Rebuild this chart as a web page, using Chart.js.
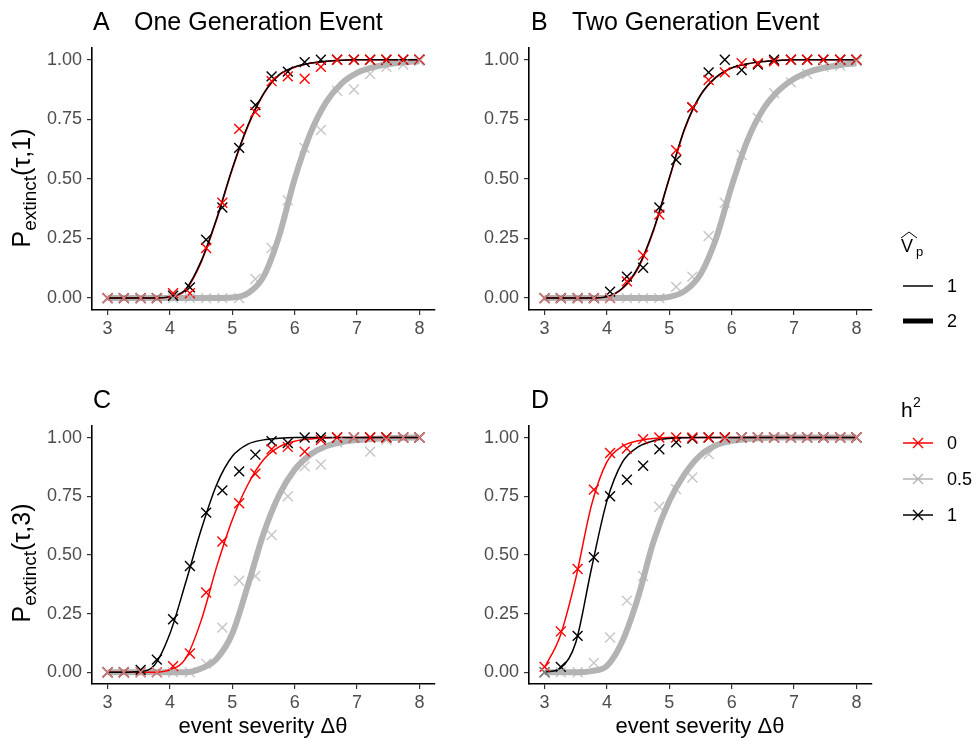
<!DOCTYPE html>
<html>
<head>
<meta charset="utf-8">
<script src="https://cdn.jsdelivr.net/npm/chart.js@4.4.1/dist/chart.umd.min.js"></script>
<style>
  body { margin: 0; background: #fff; width: 977px; height: 741px; position: relative; overflow: hidden;
         font-family: "Liberation Sans", Arial, sans-serif; }
  canvas { position: absolute; }
  .t { position: absolute; white-space: nowrap; color: #000; line-height: 1; }
  .yt { position: absolute; white-space: nowrap; color: #000; font-size: 25px; line-height: 1;
        transform: translate(-50%, -50%) rotate(-90deg); }
  .yt sub { font-size: 19px; vertical-align: -6px; }
</style>
</head>
<body>
<canvas id="pA" width="445" height="320"></canvas>
<canvas id="pB" width="445" height="320"></canvas>
<canvas id="pC" width="445" height="320"></canvas>
<canvas id="pD" width="445" height="320"></canvas>

<div class="t" style="left:93px;top:9px;font-size:25px">A</div>
<div class="t" style="left:134px;top:9px;font-size:25px">One Generation Event</div>
<div class="t" style="left:531px;top:9px;font-size:25px">B</div>
<div class="t" style="left:572px;top:9px;font-size:25px">Two Generation Event</div>
<div class="t" style="left:93px;top:387px;font-size:25px">C</div>
<div class="t" style="left:531px;top:387px;font-size:25px">D</div>

<div class="yt" style="left:24px;top:188px">P<sub>extinct</sub>(τ,1)</div>
<div class="yt" style="left:24px;top:563px">P<sub>extinct</sub>(τ,3)</div>

<div class="t" style="left:263px;top:715px;font-size:22px;transform:translateX(-50%)">event severity Δθ</div>
<div class="t" style="left:700px;top:715px;font-size:22px;transform:translateX(-50%)">event severity Δθ</div>

<!-- legend -->
<div class="t" style="left:901px;top:237px;font-size:18px">V</div>
<div class="t" style="left:916px;top:245px;font-size:13px">p</div>
<div class="t" style="left:901px;top:399px;font-size:21px">h</div>
<div class="t" style="left:913px;top:395px;font-size:14px">2</div>
<div class="t" style="left:947px;top:277px;font-size:18px">1</div>
<div class="t" style="left:947px;top:312px;font-size:18px">2</div>
<div class="t" style="left:947px;top:434px;font-size:18px">0</div>
<div class="t" style="left:947px;top:470px;font-size:18px">0.5</div>
<div class="t" style="left:947px;top:506px;font-size:18px">1</div>
<svg style="position:absolute;left:0;top:0" width="977" height="741">
  <polyline points="901,238 909,232 917,238" fill="none" stroke="#000" stroke-width="1"/>
  <line x1="903" y1="286" x2="933" y2="286" stroke="#000" stroke-width="1.5"/>
  <line x1="903" y1="321" x2="933" y2="321" stroke="#000" stroke-width="5"/>
  <line x1="903" y1="443" x2="933" y2="443" stroke="#ff0000" stroke-width="1.5"/>
  <path d="M913,438 L923,448 M913,448 L923,438" stroke="#ff0000" stroke-width="1.4"/>
  <line x1="903" y1="479" x2="933" y2="479" stroke="#b3b3b3" stroke-width="1.5"/>
  <path d="M913,474 L923,484 M913,484 L923,474" stroke="#b3b3b3" stroke-width="1.4"/>
  <line x1="903" y1="515" x2="933" y2="515" stroke="#000" stroke-width="1.5"/>
  <path d="M913,510 L923,520 M913,520 L923,510" stroke="#000" stroke-width="1.4"/>
</svg>

<script>
// simulated event severities (crosses) and fitted-curve grid
const xPoints = [3.00, 3.26, 3.53, 3.79, 4.05, 4.32, 4.58, 4.84, 5.11, 5.37, 5.63, 5.89, 6.16, 6.42, 6.68, 6.95, 7.21, 7.47, 7.74, 8.00];
const xCurve = [3.00, 3.25, 3.50, 3.75, 4.00, 4.25, 4.50, 4.75, 5.00, 5.25, 5.50, 5.75, 6.00, 6.25, 6.50, 6.75, 7.00, 7.25, 7.50, 7.75, 8.00];
const xTicks = [3, 4, 5, 6, 7, 8];
const yTicks = [0, 0.25, 0.5, 0.75, 1];

// A: one generation event, tau = 1
const aRedPts   = [0, 0, 0, 0, 0.02, 0.02, 0.21, 0.40, 0.71, 0.78, 0.91, 0.93, 0.92, 0.97, 1, 1, 1, 1, 1, 1];
const aGreyPts  = [0, 0, 0, 0, 0, 0, 0, 0, 0, 0.08, 0.21, 0.41, 0.63, 0.705, 0.87, 0.875, 0.94, 0.97, 0.98, 0.995];
const aBlackPts = [0, 0, 0, 0, 0.01, 0.045, 0.245, 0.38, 0.63, 0.81, 0.93, 0.95, 0.99, 1, 1, 1, 1, 1, 1, 1];
const aRedCurve   = [0, 0, 0, 0, 0.005, 0.033, 0.15, 0.33, 0.54, 0.72, 0.855, 0.935, 0.968, 0.985, 0.993, 0.998, 1, 1, 1, 1, 1];
const aGreyCurve  = [0, 0, 0, 0, 0, 0, 0, 0, 0.002, 0.02, 0.09, 0.26, 0.50, 0.69, 0.82, 0.90, 0.945, 0.968, 0.981, 0.989, 0.994];
const aBlackCurve = [0, 0, 0, 0, 0.006, 0.036, 0.155, 0.335, 0.545, 0.725, 0.858, 0.937, 0.97, 0.986, 0.994, 0.998, 1, 1, 1, 1, 1];

// B: two generation event, tau = 1
const bRedPts   = [0, 0, 0, 0, 0, 0.07, 0.18, 0.35, 0.62, 0.80, 0.915, 0.947, 0.985, 0.985, 0.993, 1, 1, 1, 1, 1];
const bGreyPts  = [0, 0, 0, 0, 0, 0, 0, 0, 0.047, 0.09, 0.26, 0.40, 0.60, 0.756, 0.86, 0.905, 0.94, 0.97, 0.975, 0.993];
const bBlackPts = [0, 0, 0, 0, 0.027, 0.09, 0.127, 0.38, 0.58, 0.80, 0.947, 1, 0.957, 0.98, 1, 1, 1, 1, 1, 1];
const bRedCurve   = [0, 0, 0, 0, 0.005, 0.04, 0.125, 0.285, 0.50, 0.71, 0.85, 0.926, 0.965, 0.982, 0.992, 0.997, 1, 1, 1, 1, 1];
const bGreyCurve  = [0, 0, 0, 0, 0, 0, 0, 0, 0.005, 0.03, 0.10, 0.25, 0.47, 0.66, 0.79, 0.87, 0.92, 0.95, 0.967, 0.978, 0.985];
const bBlackCurve = [0, 0, 0, 0, 0.006, 0.042, 0.13, 0.29, 0.505, 0.715, 0.852, 0.927, 0.966, 0.983, 0.992, 0.997, 1, 1, 1, 1, 1];

// C: one generation event, tau = 3
const cRedPts   = [0, 0, 0, 0, 0.026, 0.08, 0.34, 0.557, 0.72, 0.846, 0.95, 0.96, 0.94, 0.99, 1, 1, 1, 1, 1, 1];
const cGreyPts  = [0, 0, 0, 0, 0, 0, 0.037, 0.19, 0.39, 0.41, 0.585, 0.75, 0.877, 0.885, 0.98, 1, 0.94, 0.99, 1, 1];
const cBlackPts = [0, 0, 0.01, 0.054, 0.226, 0.453, 0.68, 0.775, 0.856, 0.927, 0.984, 0.977, 1, 1, 1, 1, 1, 1, 1, 1];
const cRedCurve   = [0, 0, 0, 0, 0.011, 0.058, 0.22, 0.45, 0.65, 0.80, 0.905, 0.96, 0.984, 0.994, 0.998, 1, 1, 1, 1, 1, 1];
const cGreyCurve  = [0, 0, 0, 0, 0, 0, 0.016, 0.058, 0.165, 0.37, 0.59, 0.755, 0.863, 0.927, 0.963, 0.98, 0.989, 0.994, 0.997, 0.999, 1];
const cBlackCurve = [0, 0, 0.003, 0.03, 0.165, 0.38, 0.607, 0.80, 0.92, 0.972, 0.99, 0.997, 1, 1, 1, 1, 1, 1, 1, 1, 1];

// D: two generation event, tau = 3
const dRedPts   = [0.023, 0.174, 0.44, 0.778, 0.934, 0.953, 0.993, 1, 1, 1, 1, 1, 1, 1, 1, 1, 1, 1, 1, 1];
const dGreyPts  = [0, 0, 0, 0.04, 0.148, 0.305, 0.41, 0.705, 0.78, 0.83, 0.93, 0.99, 1, 1, 1, 1, 1, 1, 1, 1];
const dBlackPts = [0, 0.023, 0.155, 0.49, 0.75, 0.82, 0.88, 0.95, 0.98, 0.996, 1, 1, 1, 1, 1, 1, 1, 1, 1, 1];
const dRedCurve   = [0.02, 0.155, 0.40, 0.71, 0.896, 0.963, 0.986, 0.996, 1, 1, 1, 1, 1, 1, 1, 1, 1, 1, 1, 1, 1];
const dGreyCurve  = [0, 0, 0, 0.005, 0.027, 0.134, 0.32, 0.56, 0.73, 0.846, 0.925, 0.967, 0.986, 0.994, 0.998, 1, 1, 1, 1, 1, 1];
const dBlackCurve = [0.001, 0.017, 0.127, 0.44, 0.73, 0.896, 0.96, 0.986, 0.996, 0.999, 1, 1, 1, 1, 1, 1, 1, 1, 1, 1, 1];

const RED = '#ff0000', GREY = '#b3b3b3', BLACK = '#000000';
const tickFont = { family: 'Liberation Sans', size: 18 };

function pairs(xs, ys) { return xs.map((x, i) => ({ x, y: ys[i] })); }

function crosses(ys, col) {
  return { data: pairs(xPoints, ys), showLine: false, pointStyle: 'crossRot', pointRadius: 7,
           pointBorderWidth: 1.4, borderColor: col, backgroundColor: col, pointBorderColor: col };
}
function curve(ys, col, w) {
  return { data: pairs(xCurve, ys), borderColor: col, borderWidth: w, pointRadius: 0,
           cubicInterpolationMode: 'monotone', fill: false };
}

function config(red, grey, black, redC, greyC, blackC) {
  return {
    type: 'line',
    data: {
      datasets: [
        crosses(grey, 'rgba(179,179,179,0.75)'),
        crosses(red, RED),
        crosses(black, BLACK),
        curve(blackC, BLACK, 1.5),
        curve(redC, RED, 1.5),
        curve(greyC, GREY, 6)
      ]
    },
    options: {
      responsive: false,
      animation: false,
      events: [],
      layout: { padding: { top: 0, right: 10, left: 0, bottom: 0 } },
      plugins: { legend: { display: false }, tooltip: { enabled: false } },
      scales: {
        x: {
          type: 'linear', min: 2.75, max: 8.25,
          afterBuildTicks: (s) => { s.ticks = xTicks.map(v => ({ value: v })); },
          afterFit: (s) => { s.height = 40; },
          grid: { drawOnChartArea: false, drawTicks: true, tickLength: 5, color: '#333', lineWidth: 1.2 },
          border: { display: true, color: '#000', width: 1.6 },
          ticks: { font: tickFont, color: '#4d4d4d', padding: 3, maxRotation: 0, callback: (v) => String(v) }
        },
        y: {
          min: -0.05, max: 1.05,
          afterBuildTicks: (s) => { s.ticks = yTicks.map(v => ({ value: v })); },
          afterFit: (s) => { s.width = 92; },
          grid: { drawOnChartArea: false, drawTicks: true, tickLength: 5, color: '#333', lineWidth: 1.2 },
          border: { display: true, color: '#000', width: 1.6 },
          ticks: { font: tickFont, color: '#4d4d4d', padding: 5, callback: (v) => v.toFixed(2) }
        }
      }
    }
  };
}

// place a panel so that its plot area spans [top, bottom] on the page
function panel(id, left, top, bottom, ...series) {
  const cv = document.getElementById(id);
  cv.style.left = left + 'px';
  let ch = new Chart(cv, config(...series));
  const t0 = ch.chartArea.top;
  ch.destroy();
  cv.height = Math.round(t0 + (bottom - top) + 40);
  cv.style.top = Math.round(top - t0) + 'px';
  new Chart(cv, config(...series));
}

panel('pA', 0, 48, 310, aRedPts, aGreyPts, aBlackPts, aRedCurve, aGreyCurve, aBlackCurve);
panel('pB', 437, 48, 310, bRedPts, bGreyPts, bBlackPts, bRedCurve, bGreyCurve, bBlackCurve);
panel('pC', 0, 426, 684, cRedPts, cGreyPts, cBlackPts, cRedCurve, cGreyCurve, cBlackCurve);
panel('pD', 437, 426, 684, dRedPts, dGreyPts, dBlackPts, dRedCurve, dGreyCurve, dBlackCurve);
</script>
</body>
</html>
